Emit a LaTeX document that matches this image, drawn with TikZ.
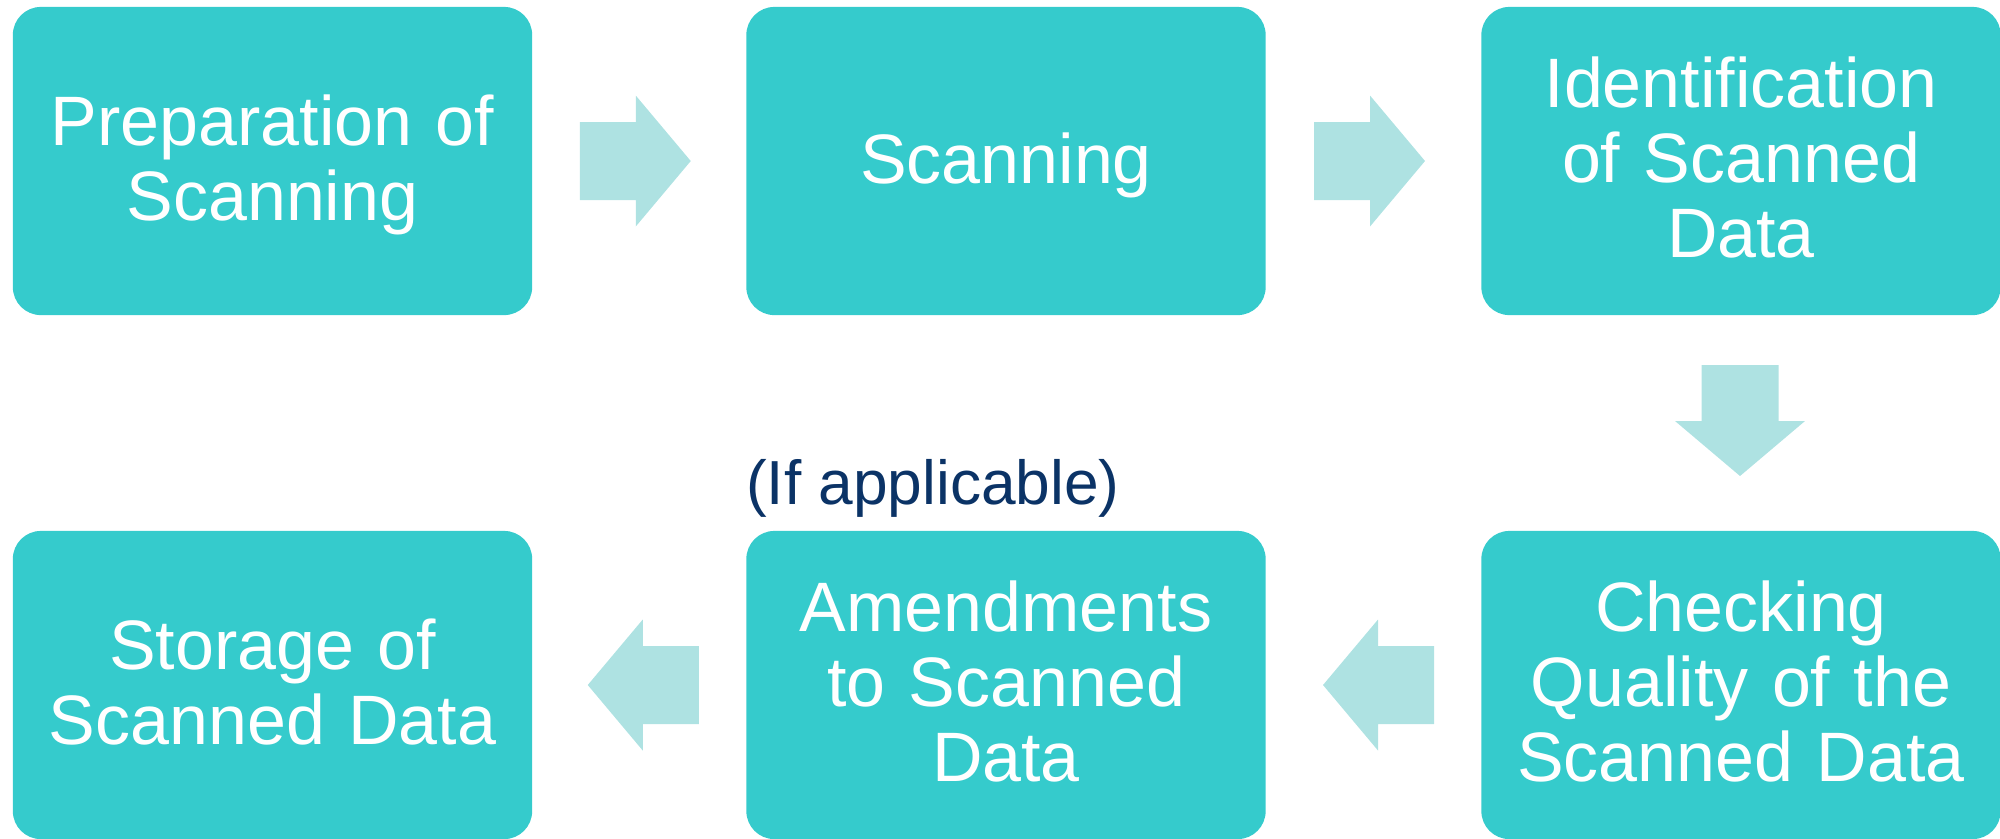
\documentclass[tikz,border=0pt]{standalone}
\usepackage{fontspec}
\setmainfont{Liberation Sans}
\usetikzlibrary{calc}
\definecolor{boxteal}{HTML}{35CBCC}
\definecolor{arrowteal}{HTML}{AEE2E2}
\definecolor{notenavy}{HTML}{0B3366}
\tikzset{
  stepbox/.style={rectangle, fill=boxteal, draw=none, rounded corners=0.28cm,
    minimum width=5.19cm, minimum height=3.08cm, inner sep=0pt,
    text=white, align=center, text width=5cm,
    font=\fontsize{19.9}{21.3}\selectfont},
  % fix the text block so its middle baseline sits 0.22cm below the centre
  oneline/.style={text height=0.44cm, text depth=0pt},
  twolines/.style={text height=0pt, text depth=0.31cm},
  threelines/.style={text height=0pt, text depth=1.06cm},
  notetext/.style={text=notenavy, inner sep=0pt, font=\fontsize{17.7}{20}\selectfont},
  % block arrow pointing right, drawn about its centre
  rblock/.pic={\fill[arrowteal] (-55.5,-39) -- (0.5,-39) -- (0.5,-65.5) -- (55.5,0)
      -- (0.5,65.5) -- (0.5,39) -- (-55.5,39) -- cycle;},
  % block arrow pointing left
  lblock/.pic={\fill[arrowteal] (55.5,-39) -- (-0.5,-39) -- (-0.5,-65.5) -- (-55.5,0)
      -- (-0.5,65.5) -- (-0.5,39) -- (55.5,39) -- cycle;},
  % block arrow pointing down
  dblock/.pic={\fill[arrowteal] (-38.5,-55.5) -- (38.5,-55.5) -- (38.5,0.5) -- (65,0.5)
      -- (0,55.5) -- (-65,0.5) -- (-38.5,0.5) -- cycle;}
}
\begin{document}
\begin{tikzpicture}[x=0.01cm, y=-0.01cm]
\useasboundingbox (0,0) rectangle (2000,838);

% process steps
\node[stepbox, twolines]   (prep)  at (272.5,161) {Preparation of\\Scanning};
\node[stepbox, oneline]    (scan)  at (1006,161)  {Scanning};
\node[stepbox, threelines] (ident) at (1741,161)  {Identification\\of Scanned\\Data};
\node[stepbox, threelines] (check) at (1741,685)  {Checking\\Quality of the\\Scanned Data};
\node[stepbox, threelines] (amend) at (1006,685)  {Amendments\\to Scanned\\Data};
\node[stepbox, twolines]   (store) at (272.5,685) {Storage of\\Scanned Data};

% remark on the optional step
\node[notetext, anchor=base] (note) at (933,504) {(If applicable)};

% connectors between the steps
\path (prep.east) -- (scan.west) coordinate[midway] (m1);
\path (scan.east) -- (ident.west) coordinate[midway] (m2);
\path (ident.south) -- (check.north) coordinate[midway] (m3);
\path (check.west) -- (amend.east) coordinate[midway] (m4);
\path (amend.west) -- (store.east) coordinate[midway] (m5);

\pic at ($(m1)+(-4,0)$) {rblock};
\pic at ($(m2)+(-4,0)$) {rblock};
\pic at ($(m3)+(-1,-2.5)$) {dblock};
\pic at ($(m4)+(5,0)$) {lblock};
\pic at ($(m5)+(4,0)$) {lblock};
\end{tikzpicture}
\end{document}
